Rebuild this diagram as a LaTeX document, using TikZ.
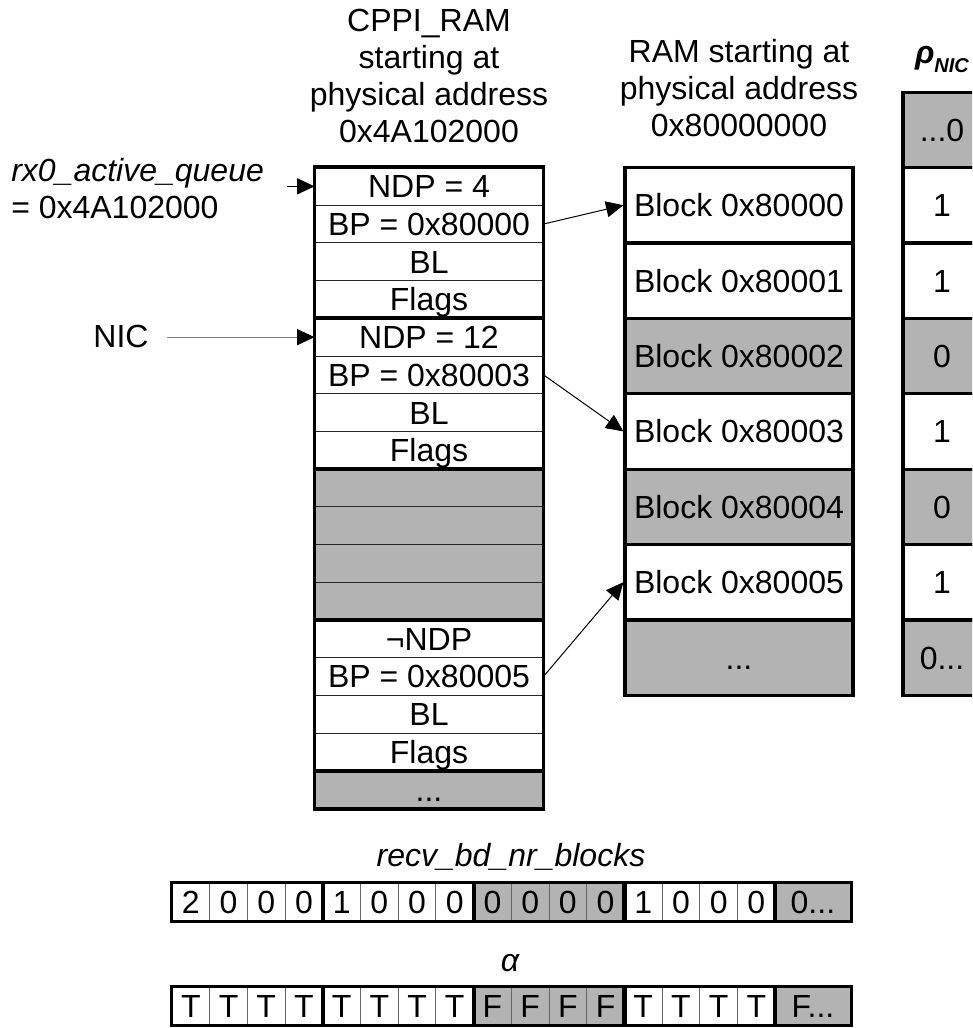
\documentclass[tikz,border=0pt]{standalone}
\usepackage{fontspec}
\setmainfont{Liberation Sans}
\usetikzlibrary{arrows.meta}
\definecolor{unused}{RGB}{179,179,179}

\begin{document}
\begin{tikzpicture}[
    x=0.75pt, y=-0.75pt,
    font=\fontsize{24}{27.75}\selectfont,
    slot/.style={draw=black!85, line width=0.75pt, inner sep=0pt,
                 minimum width=171pt, minimum height=28.28pt,
                 text height=17.2pt, text depth=0pt},
    ramblk/.style={draw, line width=2.4pt, inner sep=0pt,
                   minimum width=171pt, minimum height=56.55pt,
                   text height=17.2pt, text depth=0pt},
    rhobox/.style={ramblk, minimum width=58.5pt},
    bitcell/.style={draw=black!60, line width=0.75pt, inner sep=0pt,
                    minimum width=28.28pt, minimum height=28.28pt,
                    text height=17.2pt, text depth=0pt},
    bitwide/.style={bitcell, minimum width=56.55pt},
    free/.style={fill=unused},
    grp/.style={draw, line width=2.4pt},
    ptr/.style={-{Triangle[length=13pt,width=12pt,color=black]}, line width=0.75pt},
    title/.style={align=center, inner sep=0pt}
  ]
  \useasboundingbox (0,0) rectangle (972,1028);
  \clip (0,0) rectangle (972,1028);

  % headers
  \node[title, anchor=south] (hcppi) at (429,143) {CPPI\_RAM\\ starting at\\ physical address\\ 0x4A102000};
  \node[title, anchor=south] (hram) at (739,137) {RAM starting at\\ physical address\\ 0x80000000};
  \node[inner sep=0pt, anchor=base] (hrho) at (942,63)
    {\bfseries\itshape ρ\raisebox{-6.75pt}{\fontsize{15}{15}\selectfont NIC}};

  % CPPI_RAM descriptors
  \node[slot] (d1ndp) at (429,186.35) {NDP = 4};
  \node[slot] (d1bp)  at (429,224.05) {BP = 0x80000};
  \node[slot] (d1bl)  at (429,261.75) {BL};
  \node[slot] (d1fl)  at (429,299.45) {Flags};
  \node[slot] (d2ndp) at (429,337.15) {NDP = 12};
  \node[slot] (d2bp)  at (429,374.85) {BP = 0x80003};
  \node[slot] (d2bl)  at (429,412.55) {BL};
  \node[slot] (d2fl)  at (429,450.25) {Flags};
  \node[slot,free] (g1) at (429,487.95) {};
  \node[slot,free] (g2) at (429,525.65) {};
  \node[slot,free] (g3) at (429,563.35) {};
  \node[slot,free] (g4) at (429,601.05) {};
  \node[slot] (d3ndp) at (429,638.75) {¬NDP};
  \node[slot] (d3bp)  at (429,676.45) {BP = 0x80005};
  \node[slot] (d3bl)  at (429,714.15) {BL};
  \node[slot] (d3fl)  at (429,751.85) {Flags};
  \node[slot,free] (cmore) at (429,789.55) {...};
  \draw[grp] (d1ndp.north west) rectangle (d1fl.south east);
  \draw[grp] (d2ndp.north west) rectangle (d2fl.south east);
  \draw[grp] (g1.north west) rectangle (g4.south east);
  \draw[grp] (d3ndp.north west) rectangle (d3fl.south east);
  \draw[grp] (cmore.north west) rectangle (cmore.south east);

  % RAM blocks
  \node[ramblk] (b0) at (739,205.2) {Block 0x80000};
  \node[ramblk] (b1) at (739,280.6) {Block 0x80001};
  \node[ramblk,free] (b2) at (739,356.0) {Block 0x80002};
  \node[ramblk] (b3) at (739,431.4) {Block 0x80003};
  \node[ramblk,free] (b4) at (739,506.8) {Block 0x80004};
  \node[ramblk] (b5) at (739,582.2) {Block 0x80005};
  \node[ramblk,free] (bmore) at (739,657.6) {...};

  % rho_NIC
  \node[rhobox,free] (p0) at (942,129.8) {...0};
  \node[rhobox] (p1) at (942,205.2) {1};
  \node[rhobox] (p2) at (942,280.6) {1};
  \node[rhobox,free] (p3) at (942,356.0) {0};
  \node[rhobox] (p4) at (942,431.4) {1};
  \node[rhobox,free] (p5) at (942,506.8) {0};
  \node[rhobox] (p6) at (942,582.2) {1};
  \node[rhobox,free] (p7) at (942,657.6) {0...};

  % pointers
  \node[title, align=left, anchor=south west] (rxq) at (11,219)
    {{\itshape rx0\_active\_queue}\\ = 0x4A102000};
  \coordinate (rxin) at (287,186.35);
  \draw[ptr] (rxin) -- (d1ndp.west);
  \node[inner sep=0pt, anchor=base] (nic) at (121,347) {NIC};
  \coordinate (nicin) at (167,337.15);
  \draw[ptr, draw=black!50] (nicin) -- (d2ndp.west);
  \draw[ptr] (d1bp.east) -- (b0.west);
  \draw[ptr] (d2bp.east) -- (b3.west);
  \draw[ptr] (d3bp.east) -- (b5.west);

  % recv_bd_nr_blocks
  \node[inner sep=0pt, anchor=base] (hrecv) at (511,866) {\itshape recv\_bd\_nr\_blocks};
  \node[bitcell] (n1) at (190.85,902) {2};  \node[bitcell] (n2) at (228.55,902) {0};
  \node[bitcell] (n3) at (266.25,902) {0};  \node[bitcell] (n4) at (303.95,902) {0};
  \node[bitcell] (n5) at (341.65,902) {1};  \node[bitcell] (n6) at (379.35,902) {0};
  \node[bitcell] (n7) at (417.05,902) {0};  \node[bitcell] (n8) at (454.75,902) {0};
  \node[bitcell,free] (n9) at (492.45,902) {0};  \node[bitcell,free] (n10) at (530.15,902) {0};
  \node[bitcell,free] (n11) at (567.85,902) {0}; \node[bitcell,free] (n12) at (605.55,902) {0};
  \node[bitcell] (n13) at (643.25,902) {1}; \node[bitcell] (n14) at (680.95,902) {0};
  \node[bitcell] (n15) at (718.65,902) {0}; \node[bitcell] (n16) at (756.35,902) {0};
  \node[bitwide,free] (n17) at (812.9,902) {0...};
  \draw[grp] (n1.north west) rectangle (n4.south east);
  \draw[grp] (n5.north west) rectangle (n8.south east);
  \draw[grp] (n9.north west) rectangle (n12.south east);
  \draw[grp] (n13.north west) rectangle (n16.south east);
  \draw[grp] (n17.north west) rectangle (n17.south east);

  % alpha
  \node[inner sep=0pt, anchor=base] (halpha) at (510,971) {\itshape α};
  \node[bitcell] (a1) at (190.85,1006) {T};  \node[bitcell] (a2) at (228.55,1006) {T};
  \node[bitcell] (a3) at (266.25,1006) {T};  \node[bitcell] (a4) at (303.95,1006) {T};
  \node[bitcell] (a5) at (341.65,1006) {T};  \node[bitcell] (a6) at (379.35,1006) {T};
  \node[bitcell] (a7) at (417.05,1006) {T};  \node[bitcell] (a8) at (454.75,1006) {T};
  \node[bitcell,free] (a9) at (492.45,1006) {F};  \node[bitcell,free] (a10) at (530.15,1006) {F};
  \node[bitcell,free] (a11) at (567.85,1006) {F}; \node[bitcell,free] (a12) at (605.55,1006) {F};
  \node[bitcell] (a13) at (643.25,1006) {T}; \node[bitcell] (a14) at (680.95,1006) {T};
  \node[bitcell] (a15) at (718.65,1006) {T}; \node[bitcell] (a16) at (756.35,1006) {T};
  \node[bitwide,free] (a17) at (812.9,1006) {F...};
  \draw[grp] (a1.north west) rectangle (a4.south east);
  \draw[grp] (a5.north west) rectangle (a8.south east);
  \draw[grp] (a9.north west) rectangle (a12.south east);
  \draw[grp] (a13.north west) rectangle (a16.south east);
  \draw[grp] (a17.north west) rectangle (a17.south east);
\end{tikzpicture}
\end{document}
